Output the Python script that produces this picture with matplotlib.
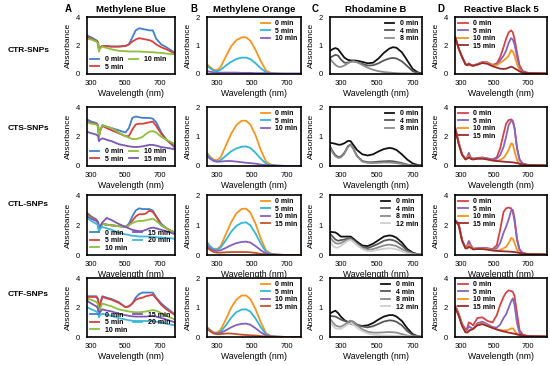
import numpy as np
import matplotlib
matplotlib.use('Agg')
import matplotlib.pyplot as plt

plt.rcParams['font.family'] = ['Liberation Sans', 'DejaVu Sans']

# ---------------- data ----------------
col_titles = ['Methylene Blue', 'Methylene Orange', 'Rhodamine B', 'Reactive Black 5']
col_letters = ['A', 'B', 'C', 'D']
row_names = ['CTR-SNPs', 'CTS-SNPs', 'CTL-SNPs', 'CTF-SNPs']

# Methylene Blue
wl_mb = [275, 300, 330, 340, 345, 350, 365, 390, 420, 460, 500, 520, 540, 560, 580, 600, 620, 640, 660, 680, 710, 740, 790]
mb_ctr_0 = [2.75, 2.6, 2.4, 2.25, 1.7, 1.85, 2.0, 1.98, 1.95, 1.95, 1.98, 2.1, 2.6, 3.1, 3.25, 3.2, 3.15, 3.1, 3.1, 2.5, 2.1, 1.9, 1.5]
mb_ctr_5 = [2.65, 2.5, 2.35, 2.2, 1.7, 1.85, 2.0, 1.98, 1.95, 1.95, 2.0, 2.1, 2.3, 2.45, 2.55, 2.5, 2.45, 2.4, 2.3, 2.1, 1.9, 1.75, 1.45]
mb_ctr_10 = [2.5, 2.45, 2.3, 2.15, 1.6, 1.8, 1.95, 1.85, 1.75, 1.65, 1.62, 1.6, 1.6, 1.6, 1.6, 1.58, 1.57, 1.55, 1.55, 1.52, 1.5, 1.45, 1.4]

mb_cts_0 = [3.2, 3.05, 2.95, 2.8, 2.05, 2.4, 2.8, 2.7, 2.6, 2.45, 2.3, 2.6, 3.3, 3.4, 3.35, 3.3, 3.3, 3.3, 3.25, 3.0, 2.3, 1.8, 1.25]
mb_cts_5 = [3.05, 2.95, 2.9, 2.75, 2.0, 2.35, 2.75, 2.6, 2.45, 2.25, 2.05, 2.05, 2.5, 2.85, 2.9, 2.9, 2.95, 3.0, 3.05, 2.75, 2.2, 1.8, 1.35]
mb_cts_10 = [3.0, 2.9, 2.85, 2.7, 2.0, 2.35, 2.8, 2.7, 2.6, 2.3, 2.05, 1.95, 1.85, 1.85, 1.9, 2.0, 2.2, 2.35, 2.4, 2.3, 2.0, 1.8, 1.5]
mb_cts_15 = [2.35, 2.25, 2.15, 2.05, 1.7, 1.8, 1.9, 1.8, 1.7, 1.5, 1.4, 1.35, 1.32, 1.3, 1.32, 1.35, 1.4, 1.45, 1.45, 1.4, 1.3, 1.25, 1.15]

mb_ctl_0 = [2.85, 2.6, 2.4, 2.2, 1.65, 1.9, 2.1, 2.05, 2.0, 1.95, 1.9, 2.1, 2.6, 3.0, 3.15, 3.1, 3.1, 3.1, 3.0, 2.6, 2.1, 1.8, 1.5]
mb_ctl_5 = [2.75, 2.55, 2.35, 2.2, 1.65, 1.9, 2.1, 2.05, 2.0, 1.95, 1.9, 2.0, 2.3, 2.6, 2.75, 2.75, 2.8, 3.0, 2.9, 2.6, 2.0, 1.8, 1.5]
mb_ctl_10 = [2.65, 2.5, 2.3, 2.15, 1.6, 1.85, 2.1, 2.05, 2.0, 1.95, 1.9, 2.0, 2.15, 2.25, 2.3, 2.3, 2.35, 2.4, 2.45, 2.3, 2.0, 1.8, 1.45]
mb_ctl_15 = [2.6, 2.45, 2.3, 2.2, 1.7, 1.9, 2.2, 2.5, 2.35, 2.1, 1.9, 1.8, 1.7, 1.65, 1.6, 1.62, 1.7, 1.8, 1.85, 1.8, 1.7, 1.6, 1.4]
mb_ctl_20 = [2.5, 2.3, 2.1, 2.0, 1.55, 1.75, 1.9, 1.8, 1.7, 1.5, 1.4, 1.35, 1.3, 1.28, 1.25, 1.25, 1.25, 1.25, 1.22, 1.2, 1.18, 1.15, 1.1]

mb_ctf_0 = [2.8, 2.8, 2.8, 2.6, 1.45, 2.2, 2.8, 2.7, 2.6, 2.4, 2.05, 2.1, 2.3, 2.7, 2.95, 3.05, 3.05, 3.05, 3.05, 2.7, 2.3, 2.0, 1.55]
mb_ctf_5 = [2.75, 2.75, 2.75, 2.55, 1.5, 2.2, 2.75, 2.65, 2.55, 2.35, 2.05, 2.1, 2.3, 2.55, 2.65, 2.7, 2.8, 2.85, 2.9, 2.65, 2.2, 1.9, 1.5]
mb_ctf_10 = [2.65, 2.55, 2.4, 2.25, 1.5, 1.9, 2.3, 2.2, 2.1, 1.9, 1.8, 1.75, 1.72, 1.7, 1.7, 1.72, 1.75, 1.8, 1.85, 1.8, 1.65, 1.45, 1.2]
mb_ctf_15 = [2.5, 2.3, 2.1, 1.95, 1.45, 1.7, 1.9, 1.82, 1.75, 1.6, 1.5, 1.45, 1.42, 1.4, 1.4, 1.4, 1.4, 1.43, 1.45, 1.4, 1.3, 1.2, 1.0]
mb_ctf_20 = [2.05, 1.9, 1.75, 1.65, 1.35, 1.5, 1.6, 1.52, 1.45, 1.3, 1.2, 1.15, 1.12, 1.1, 1.1, 1.1, 1.1, 1.1, 1.1, 1.05, 1.0, 0.9, 0.8]

# Methylene Orange
wl_mo = [240, 260, 280, 300, 320, 350, 380, 410, 440, 465, 490, 520, 550, 580, 610, 650, 700, 780]
mo_ctr_0 = [0.35, 0.25, 0.15, 0.14, 0.25, 0.62, 0.98, 1.2, 1.3, 1.3, 1.18, 0.85, 0.45, 0.12, 0.03, 0.01, 0.0, 0.0]
mo_ctr_5 = [0.3, 0.2, 0.12, 0.1, 0.15, 0.3, 0.43, 0.53, 0.58, 0.58, 0.53, 0.38, 0.2, 0.06, 0.02, 0.01, 0.0, 0.0]
mo_ctr_10 = [0.1, 0.08, 0.06, 0.05, 0.05, 0.05, 0.05, 0.05, 0.04, 0.04, 0.04, 0.03, 0.03, 0.03, 0.02, 0.02, 0.02, 0.02]

mo_cts_0 = [0.47, 0.32, 0.22, 0.2, 0.3, 0.7, 1.1, 1.4, 1.55, 1.55, 1.42, 1.05, 0.55, 0.15, 0.04, 0.01, 0.0, 0.0]
mo_cts_5 = [0.42, 0.28, 0.18, 0.15, 0.2, 0.35, 0.5, 0.6, 0.66, 0.67, 0.62, 0.45, 0.25, 0.08, 0.02, 0.01, 0.0, 0.0]
mo_cts_10 = [0.35, 0.25, 0.17, 0.15, 0.15, 0.17, 0.17, 0.15, 0.13, 0.11, 0.1, 0.08, 0.05, 0.03, 0.02, 0.01, 0.0, 0.0]

mo_ctl_0 = [0.45, 0.3, 0.2, 0.2, 0.3, 0.7, 1.1, 1.4, 1.55, 1.56, 1.43, 1.05, 0.55, 0.15, 0.04, 0.01, 0.0, 0.0]
mo_ctl_5 = [0.42, 0.28, 0.2, 0.18, 0.25, 0.5, 0.78, 0.98, 1.08, 1.1, 1.0, 0.72, 0.38, 0.1, 0.03, 0.01, 0.0, 0.0]
mo_ctl_10 = [0.32, 0.22, 0.15, 0.14, 0.16, 0.24, 0.33, 0.4, 0.44, 0.45, 0.42, 0.3, 0.16, 0.05, 0.02, 0.01, 0.0, 0.0]
mo_ctl_15 = [0.25, 0.17, 0.1, 0.08, 0.08, 0.09, 0.1, 0.1, 0.1, 0.1, 0.09, 0.07, 0.04, 0.02, 0.01, 0.0, 0.0, 0.0]

mo_ctf_0 = [0.35, 0.25, 0.16, 0.15, 0.25, 0.6, 1.0, 1.28, 1.42, 1.42, 1.3, 0.95, 0.5, 0.13, 0.03, 0.01, 0.0, 0.0]
mo_ctf_5 = [0.33, 0.23, 0.14, 0.12, 0.18, 0.4, 0.66, 0.85, 0.94, 0.95, 0.87, 0.63, 0.33, 0.09, 0.02, 0.01, 0.0, 0.0]
mo_ctf_10 = [0.3, 0.2, 0.13, 0.12, 0.14, 0.23, 0.33, 0.41, 0.45, 0.46, 0.42, 0.3, 0.16, 0.05, 0.02, 0.01, 0.0, 0.0]
mo_ctf_15 = [0.3, 0.2, 0.12, 0.1, 0.1, 0.12, 0.12, 0.1, 0.08, 0.07, 0.06, 0.05, 0.03, 0.02, 0.01, 0.0, 0.0, 0.0]

# Rhodamine B
wl_rb = [240, 255, 270, 285, 300, 320, 340, 355, 370, 390, 420, 450, 480, 510, 540, 570, 590, 610, 640, 670, 700, 730, 750]
rb_ctr_0 = [0.82, 0.88, 0.92, 0.88, 0.75, 0.58, 0.5, 0.48, 0.48, 0.47, 0.43, 0.38, 0.4, 0.55, 0.75, 0.9, 0.95, 0.93, 0.77, 0.48, 0.18, 0.05, 0.03]
rb_ctr_4 = [0.58, 0.63, 0.68, 0.65, 0.52, 0.4, 0.4, 0.44, 0.45, 0.42, 0.36, 0.3, 0.31, 0.38, 0.48, 0.55, 0.57, 0.55, 0.45, 0.28, 0.1, 0.03, 0.02]
rb_ctr_8 = [0.55, 0.42, 0.32, 0.26, 0.25, 0.3, 0.38, 0.43, 0.45, 0.42, 0.32, 0.22, 0.15, 0.1, 0.07, 0.05, 0.04, 0.03, 0.02, 0.02, 0.01, 0.01, 0.01]

rb_cts_0 = [0.8, 0.78, 0.76, 0.73, 0.73, 0.78, 0.86, 0.85, 0.72, 0.55, 0.4, 0.36, 0.4, 0.5, 0.58, 0.62, 0.6, 0.55, 0.4, 0.22, 0.09, 0.03, 0.02]
rb_cts_4 = [0.68, 0.5, 0.37, 0.31, 0.32, 0.45, 0.68, 0.74, 0.6, 0.35, 0.17, 0.13, 0.13, 0.15, 0.16, 0.17, 0.16, 0.14, 0.1, 0.05, 0.02, 0.01, 0.01]
rb_cts_8 = [0.62, 0.45, 0.33, 0.28, 0.29, 0.42, 0.65, 0.72, 0.58, 0.33, 0.15, 0.11, 0.1, 0.11, 0.12, 0.12, 0.11, 0.1, 0.07, 0.04, 0.02, 0.01, 0.01]

rb_ctl_0 = [0.78, 0.77, 0.76, 0.7, 0.62, 0.62, 0.62, 0.62, 0.55, 0.45, 0.32, 0.3, 0.38, 0.5, 0.62, 0.66, 0.64, 0.58, 0.42, 0.2, 0.08, 0.02, 0.01]
rb_ctl_4 = [0.72, 0.62, 0.52, 0.48, 0.5, 0.52, 0.56, 0.57, 0.5, 0.4, 0.27, 0.23, 0.3, 0.38, 0.48, 0.52, 0.5, 0.45, 0.32, 0.15, 0.06, 0.02, 0.01]
rb_ctl_8 = [0.6, 0.48, 0.4, 0.38, 0.4, 0.46, 0.52, 0.53, 0.47, 0.36, 0.23, 0.17, 0.2, 0.26, 0.32, 0.35, 0.33, 0.3, 0.2, 0.1, 0.04, 0.01, 0.01]
rb_ctl_12 = [0.45, 0.32, 0.25, 0.25, 0.3, 0.4, 0.48, 0.5, 0.44, 0.33, 0.2, 0.13, 0.14, 0.18, 0.21, 0.23, 0.22, 0.19, 0.13, 0.06, 0.02, 0.01, 0.01]

rb_ctf_0 = [0.8, 0.86, 0.9, 0.82, 0.7, 0.58, 0.5, 0.46, 0.43, 0.4, 0.38, 0.4, 0.48, 0.6, 0.7, 0.75, 0.75, 0.7, 0.55, 0.3, 0.1, 0.02, 0.01]
rb_ctf_4 = [0.72, 0.71, 0.7, 0.65, 0.6, 0.55, 0.52, 0.55, 0.52, 0.43, 0.36, 0.33, 0.37, 0.45, 0.53, 0.57, 0.56, 0.52, 0.4, 0.2, 0.07, 0.02, 0.01]
rb_ctf_8 = [0.62, 0.5, 0.4, 0.36, 0.35, 0.42, 0.5, 0.56, 0.52, 0.4, 0.26, 0.18, 0.15, 0.15, 0.16, 0.17, 0.16, 0.15, 0.1, 0.05, 0.02, 0.01, 0.01]
rb_ctf_12 = [0.55, 0.4, 0.3, 0.28, 0.28, 0.35, 0.43, 0.47, 0.43, 0.32, 0.2, 0.12, 0.08, 0.06, 0.05, 0.05, 0.04, 0.04, 0.03, 0.02, 0.01, 0.01, 0.01]

# Reactive Black 5
wl_rb5 = [270, 290, 310, 330, 340, 350, 360, 375, 400, 430, 460, 490, 515, 535, 555, 570, 585, 600, 610, 620, 635, 650, 670, 700, 750, 800]
rb5_ctr_0 = [2.6, 1.8, 1.2, 0.7, 0.62, 0.75, 0.65, 0.6, 0.7, 0.85, 0.82, 0.65, 0.75, 1.2, 1.9, 2.5, 2.95, 3.1, 2.95, 2.5, 1.5, 0.6, 0.2, 0.08, 0.05, 0.04]
rb5_ctr_5 = [2.6, 1.8, 1.2, 0.7, 0.62, 0.75, 0.65, 0.6, 0.7, 0.85, 0.82, 0.62, 0.65, 0.95, 1.3, 1.65, 2.2, 2.55, 2.45, 2.1, 1.2, 0.45, 0.15, 0.07, 0.05, 0.04]
rb5_ctr_10 = [2.6, 1.8, 1.2, 0.7, 0.62, 0.72, 0.63, 0.58, 0.68, 0.82, 0.78, 0.6, 0.62, 0.8, 0.95, 1.1, 1.3, 1.7, 1.6, 1.3, 0.7, 0.25, 0.1, 0.06, 0.05, 0.04]
rb5_ctr_15 = [2.6, 1.8, 1.2, 0.7, 0.62, 0.72, 0.63, 0.58, 0.66, 0.78, 0.72, 0.55, 0.45, 0.38, 0.36, 0.38, 0.45, 0.52, 0.48, 0.4, 0.3, 0.18, 0.1, 0.06, 0.05, 0.04]

rb5_cts_0 = [2.6, 1.6, 0.8, 0.5, 0.6, 0.9, 0.6, 0.5, 0.55, 0.58, 0.52, 0.45, 0.6, 1.2, 2.2, 2.9, 3.15, 3.2, 3.1, 2.6, 1.2, 0.45, 0.15, 0.08, 0.05, 0.04]
rb5_cts_5 = [2.6, 1.6, 0.8, 0.5, 0.6, 0.85, 0.58, 0.5, 0.55, 0.58, 0.52, 0.43, 0.5, 0.75, 1.3, 2.0, 2.8, 3.1, 3.05, 2.6, 1.2, 0.4, 0.13, 0.07, 0.05, 0.04]
rb5_cts_10 = [2.55, 1.55, 0.75, 0.45, 0.55, 0.7, 0.5, 0.45, 0.5, 0.52, 0.45, 0.38, 0.35, 0.42, 0.55, 0.8, 1.1, 1.55, 1.5, 1.0, 0.4, 0.12, 0.06, 0.05, 0.04, 0.04]
rb5_cts_15 = [2.5, 1.5, 0.75, 0.45, 0.5, 0.6, 0.5, 0.45, 0.5, 0.5, 0.45, 0.38, 0.34, 0.32, 0.3, 0.28, 0.27, 0.26, 0.25, 0.23, 0.2, 0.15, 0.1, 0.06, 0.05, 0.04]

rb5_ctl_0 = [2.35, 2.1, 1.0, 0.5, 0.6, 0.95, 0.7, 0.42, 0.45, 0.48, 0.45, 0.4, 0.65, 1.7, 2.9, 3.15, 3.2, 3.15, 2.9, 2.3, 1.0, 0.35, 0.12, 0.07, 0.05, 0.04]
rb5_ctl_5 = [2.35, 2.1, 1.0, 0.5, 0.6, 0.9, 0.65, 0.42, 0.45, 0.48, 0.45, 0.38, 0.45, 0.8, 1.5, 1.9, 2.4, 3.0, 3.05, 2.5, 1.1, 0.35, 0.12, 0.07, 0.05, 0.04]
rb5_ctl_10 = [2.3, 2.0, 0.95, 0.45, 0.5, 0.7, 0.55, 0.38, 0.42, 0.43, 0.4, 0.33, 0.3, 0.33, 0.45, 0.55, 0.8, 1.15, 1.1, 0.8, 0.35, 0.12, 0.06, 0.05, 0.04, 0.04]
rb5_ctl_15 = [2.3, 2.0, 0.95, 0.45, 0.45, 0.55, 0.5, 0.38, 0.4, 0.4, 0.36, 0.3, 0.28, 0.26, 0.25, 0.24, 0.23, 0.22, 0.21, 0.2, 0.17, 0.14, 0.1, 0.06, 0.05, 0.04]

rb5_ctf_0 = [2.15, 1.6, 0.9, 0.55, 0.6, 1.0, 0.95, 0.8, 1.3, 1.35, 1.1, 1.0, 1.5, 2.2, 2.75, 3.05, 3.2, 3.15, 3.1, 2.8, 1.6, 0.45, 0.15, 0.07, 0.05, 0.04]
rb5_ctf_5 = [2.1, 1.55, 0.85, 0.45, 0.5, 0.75, 0.65, 0.55, 0.95, 1.05, 0.88, 0.68, 0.65, 0.85, 1.3, 1.55, 2.0, 2.45, 2.65, 2.2, 0.95, 0.25, 0.1, 0.06, 0.05, 0.04]
rb5_ctf_10 = [2.05, 1.5, 0.8, 0.35, 0.35, 0.45, 0.5, 0.55, 0.85, 0.92, 0.78, 0.62, 0.52, 0.46, 0.45, 0.46, 0.5, 0.58, 0.6, 0.45, 0.2, 0.08, 0.05, 0.04, 0.04, 0.04]
rb5_ctf_15 = [2.0, 1.45, 0.75, 0.32, 0.3, 0.4, 0.48, 0.55, 0.8, 0.88, 0.75, 0.62, 0.52, 0.45, 0.38, 0.35, 0.3, 0.27, 0.25, 0.22, 0.18, 0.14, 0.1, 0.06, 0.05, 0.04]

# colours per time label
mb_colors = {'0 min': '#3F7FD0', '5 min': '#D8403C', '10 min': '#8DBF3E', '15 min': '#7B57B3', '20 min': '#3DB7DA'}
mo_colors = {'0 min': '#F7941E', '5 min': '#33B5D9', '10 min': '#8360BD', '15 min': '#C4532C'}
rb_colors = {'0 min': '#111111', '4 min': '#575757', '8 min': '#8C8C8C', '12 min': '#CFCFCF'}
rb5_colors = {'0 min': '#DA4144', '5 min': '#8466C0', '10 min': '#F7941E', '15 min': '#9B2B30'}

# ---------------- figure ----------------
W, H = 550, 365
fig = plt.figure(figsize=(W / 100, H / 100), dpi=100)

col_x = [(87, 175), (207, 301), (330, 422), (455, 547)]
row_y = [(17, 74), (107, 166), (195, 255), (278, 337)]


def add_ax(cx, ry):
    l, r = cx
    t, b = ry
    return fig.add_axes([l / W, 1 - b / H, (r - l) / W, (b - t) / H])


panels = [
    # (column, wavelength grid, xlim, ylim, yticks, colors, legend kwargs, rows)
    (0, wl_mb, (275, 790), (0, 4.05), [0, 2, 4], mb_colors,
     dict(loc='lower left', ncol=2, columnspacing=0.8),
     [[('0 min', mb_ctr_0), ('5 min', mb_ctr_5), ('10 min', mb_ctr_10)],
      [('0 min', mb_cts_0), ('5 min', mb_cts_5), ('10 min', mb_cts_10), ('15 min', mb_cts_15)],
      [('0 min', mb_ctl_0), ('5 min', mb_ctl_5), ('10 min', mb_ctl_10), ('15 min', mb_ctl_15), ('20 min', mb_ctl_20)],
      [('0 min', mb_ctf_0), ('5 min', mb_ctf_5), ('10 min', mb_ctf_10), ('15 min', mb_ctf_15), ('20 min', mb_ctf_20)]]),
    (1, wl_mo, (242, 780), (0, 2.02), [0, 1, 2], mo_colors,
     dict(loc='upper right'),
     [[('0 min', mo_ctr_0), ('5 min', mo_ctr_5), ('10 min', mo_ctr_10)],
      [('0 min', mo_cts_0), ('5 min', mo_cts_5), ('10 min', mo_cts_10)],
      [('0 min', mo_ctl_0), ('5 min', mo_ctl_5), ('10 min', mo_ctl_10), ('15 min', mo_ctl_15)],
      [('0 min', mo_ctf_0), ('5 min', mo_ctf_5), ('10 min', mo_ctf_10), ('15 min', mo_ctf_15)]]),
    (2, wl_rb, (240, 752), (0, 2.02), [0, 1, 2], rb_colors,
     dict(loc='upper right'),
     [[('0 min', rb_ctr_0), ('4 min', rb_ctr_4), ('8 min', rb_ctr_8)],
      [('0 min', rb_cts_0), ('4 min', rb_cts_4), ('8 min', rb_cts_8)],
      [('0 min', rb_ctl_0), ('4 min', rb_ctl_4), ('8 min', rb_ctl_8), ('12 min', rb_ctl_12)],
      [('0 min', rb_ctf_0), ('4 min', rb_ctf_4), ('8 min', rb_ctf_8), ('12 min', rb_ctf_12)]]),
    (3, wl_rb5, (268, 812), (0, 4.05), [0, 2, 4], rb5_colors,
     dict(loc='upper left'),
     [[('0 min', rb5_ctr_0), ('5 min', rb5_ctr_5), ('10 min', rb5_ctr_10), ('15 min', rb5_ctr_15)],
      [('0 min', rb5_cts_0), ('5 min', rb5_cts_5), ('10 min', rb5_cts_10), ('15 min', rb5_cts_15)],
      [('0 min', rb5_ctl_0), ('5 min', rb5_ctl_5), ('10 min', rb5_ctl_10), ('15 min', rb5_ctl_15)],
      [('0 min', rb5_ctf_0), ('5 min', rb5_ctf_5), ('10 min', rb5_ctf_10), ('15 min', rb5_ctf_15)]]),
]

for c, wl, xlim, ylim, yticks, colors, leg_kw, rows in panels:
    for r, curves in enumerate(rows):
        ax = add_ax(col_x[c], row_y[r])
        for lab, vals in curves:
            ax.plot(wl, vals, color=colors[lab], lw=1.3, label=lab)
        ax.set_xlim(*xlim)
        ax.set_ylim(*ylim)
        ax.set_xticks([300, 500, 700])
        ax.set_yticks(yticks)
        ax.tick_params(axis='x', length=0, labelsize=5.5, pad=4.5)
        ax.tick_params(axis='y', length=0, labelsize=5.5, pad=5)
        for sp in ax.spines.values():
            sp.set_linewidth(1.2)
        ax.set_xlabel('Wavelength (nm)', fontsize=6.2, labelpad=1)
        ax.set_ylabel('Absorbance', fontsize=6, labelpad=3)
        ax.legend(frameon=False, prop={'size': 5, 'weight': 'bold'}, handlelength=1.3,
                  handletextpad=0.8, labelspacing=0.05, borderaxespad=0.3, borderpad=0.2, **leg_kw)

# column titles and letters
letter_x = [65, 190, 312, 437]
for c in range(4):
    cx = (col_x[c][0] + col_x[c][1]) / 2
    fig.text(cx / W, 1 - 10 / H, col_titles[c], ha='center', va='center', fontsize=6.8, fontweight='bold')
    fig.text(letter_x[c] / W, 1 - 9 / H, col_letters[c], ha='left', va='center', fontsize=7, fontweight='bold')

# row labels
row_label_y = [50, 128, 205, 295]
for r in range(4):
    fig.text(8 / W, 1 - row_label_y[r] / H, row_names[r], ha='left', va='center', fontsize=6, fontweight='bold')

fig.savefig('out.png', dpi=100)
